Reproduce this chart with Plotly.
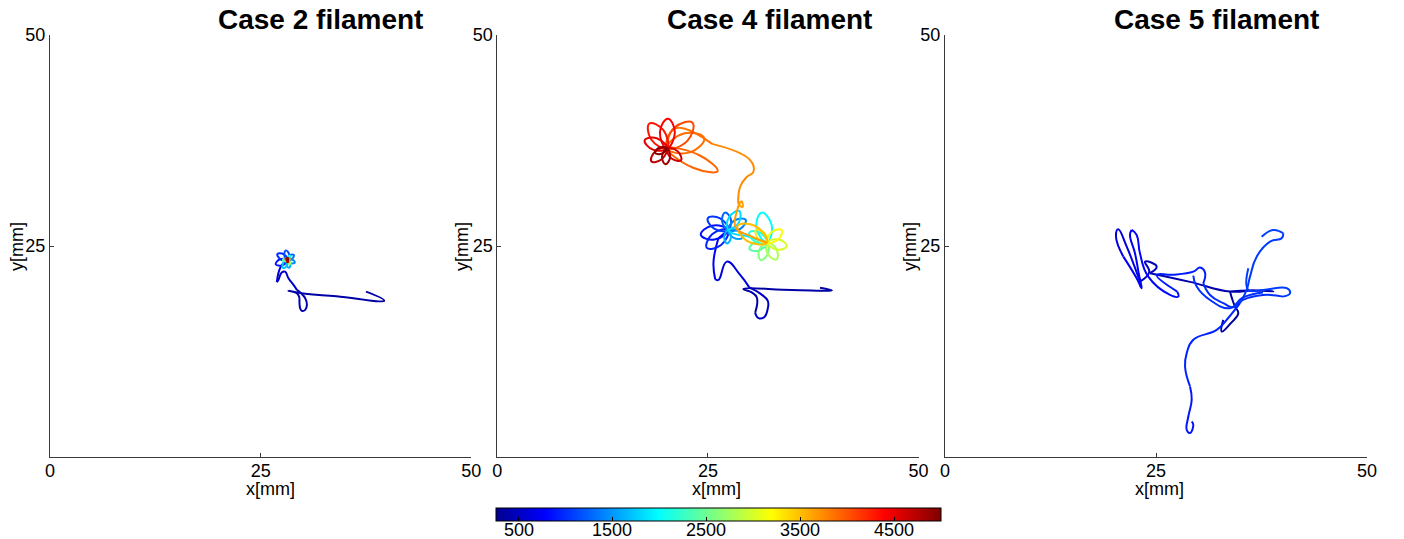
import plotly.graph_objects as go

# ---------------- data ----------------
CMIN, CMAX = 260, 5000
CBAR_TICKS = [500, 1500, 2500, 3500, 4500]
TITLES = ["Case 2 filament", "Case 4 filament", "Case 5 filament"]
X_TICKS = [0, 25, 50]
Y_TICKS = [25, 50]

# Each point: (x [mm], y [mm], time value)
CASE2_PATH = [
    (37.5, 19.6, 300), (39.67, 18.53, 315), (34.0, 19.05, 335), (30.3, 19.35, 355),
    (28.3, 19.7, 370), (29.3, 19.41, 385), (29.61, 18.82, 400), (29.69, 17.63, 420),
    (29.89, 17.31, 430), (30.29, 17.43, 440), (30.49, 18.02, 450), (30.29, 18.82, 465),
    (29.3, 19.8, 480), (28.9, 20.39, 495), (28.3, 21.18, 510), (27.9, 21.96, 525),
    (27.5, 21.85, 540), (27.1, 20.98, 555), (26.92, 20.71, 565), (27.1, 21.78, 580),
    (27.4, 22.56, 600), (27.7, 22.96, 620), (28.2, 23.35, 700),
]
CASE2_FLOWER = [
    (28.2, 23.35, 900), (27.30, 23.43, 900), (26.79, 22.84, 900), (27.56, 22.71, 900), (28.2, 23.35, 900),
    (28.2, 23.35, 1000), (27.72, 24.04, 1000), (26.99, 24.05, 1000), (27.36, 23.42, 1000), (28.2, 23.35, 1000),
    (28.2, 23.35, 1150), (28.38, 24.02, 1150), (28.0, 24.48, 1150), (27.80, 23.92, 1150), (28.2, 23.35, 1150),
    (28.2, 23.35, 1300), (28.75, 23.50, 1300), (28.93, 23.96, 1300), (28.44, 23.87, 1300), (28.2, 23.35, 1300),
    (28.2, 23.35, 1450), (28.58, 22.97, 1450), (29.05, 23.04, 1450), (28.74, 23.40, 1450), (28.2, 23.35, 1450),
    (28.2, 23.35, 1600), (28.05, 22.80, 1600), (28.37, 22.41, 1600), (28.53, 22.88, 1600), (28.2, 23.35, 1600),
    (28.2, 23.35, 1750), (27.66, 22.97, 1750), (27.65, 22.40, 1750), (28.14, 22.69, 1750), (28.2, 23.35, 1750),
    (28.2, 23.35, 2100), (28.47, 23.54, 2100), (28.48, 23.83, 2100), (28.23, 23.68, 2100), (28.2, 23.35, 2100),
    (28.2, 23.35, 2400), (27.90, 23.49, 2400), (27.65, 23.35, 2400), (27.90, 23.21, 2400), (28.2, 23.35, 2400),
    (28.2, 23.35, 2700), (28.23, 23.02, 2700), (28.48, 22.87, 2700), (28.47, 23.16, 2700), (28.2, 23.35, 2700),
    (28.2, 23.35, 3800), (28.38, 23.37, 3800), (28.46, 23.50, 3800), (28.30, 23.50, 3800), (28.2, 23.35, 3800),
    (28.2, 23.35, 4300), (28.10, 23.50, 4300), (27.94, 23.50, 4300), (28.02, 23.37, 4300), (28.2, 23.35, 4300),
    (28.2, 23.35, 4700), (28.12, 23.19, 4700), (28.2, 23.05, 4700), (28.28, 23.19, 4700), (28.2, 23.35, 4700),
    (28.2, 23.35, 4950), (28.26, 23.49, 4950), (28.2, 23.6, 4950), (28.14, 23.49, 4950), (28.2, 23.35, 4950),
]

CASE4_PATH = [
    (38.3, 20.05, 300), (39.7, 19.75, 310), (35.0, 19.8, 330), (29.2, 19.9, 360),
    (30.2, 19.5, 380), (30.8, 18.9, 400), (30.6, 17.1, 420), (31.0, 16.45, 440),
    (31.7, 16.6, 460), (32.1, 17.6, 480), (32.1, 18.5, 500), (31.3, 19.3, 520),
    (29.9, 20.1, 540), (28.8, 21.6, 560), (27.24, 23.15, 600), (26.25, 20.98, 640),
    (25.86, 21.06, 660), (25.65, 22.96, 700), (25.97, 24.92, 740), (26.25, 25.92, 780),
    (27.4, 26.9, 800),
]
CASE4_BLUE_FLOWER = [
    (27.4, 26.9, 850), (25.49, 27.41, 850), (24.15, 26.33, 850), (25.78, 25.76, 850), (27.4, 26.9, 850),
    (27.4, 26.9, 950), (25.49, 26.39, 950), (24.87, 24.78, 950), (26.56, 25.11, 950), (27.4, 26.9, 950),
    (27.4, 26.9, 1050), (26.44, 28.28, 1050), (24.98, 28.3, 1050), (25.73, 27.05, 1050), (27.4, 26.9, 1050),
    (27.4, 26.9, 1250), (27.73, 28.12, 1250), (27.03, 28.97, 1250), (26.68, 27.93, 1250), (27.4, 26.9, 1250),
    (27.4, 26.9, 1400), (28.83, 27.03, 1400), (29.48, 28.1, 1400), (28.23, 28.08, 1400), (27.4, 26.9, 1400),
    (27.4, 26.9, 1550), (28.05, 25.97, 1550), (29.05, 25.95, 1550), (28.54, 26.8, 1550), (27.4, 26.9, 1550),
    (27.4, 26.9, 1650), (26.92, 26.07, 1650), (27.26, 25.31, 1650), (27.73, 26.0, 1650), (27.4, 26.9, 1650),
    (27.4, 26.9, 1800), (28.68, 27.8, 1800), (28.7, 29.15, 1800), (27.54, 28.45, 1800), (27.4, 26.9, 1800),
    (29.5, 26.2, 1900), (32.0, 25.4, 1950),
]
CASE4_GREEN_FLOWER = [
    (32.0, 25.4, 2000), (32.56, 27.49, 2000), (31.37, 28.95, 2000), (30.76, 27.17, 2000), (32.0, 25.4, 2000),
    (32.0, 25.4, 2200), (31.17, 26.58, 2200), (29.92, 26.6, 2200), (30.57, 25.53, 2200), (32.0, 25.4, 2200),
    (32.0, 25.4, 2400), (30.69, 25.51, 2400), (29.93, 24.65, 2400), (31.07, 24.47, 2400), (32.0, 25.4, 2400),
    (32.0, 25.4, 2600), (31.07, 24.47, 2600), (31.25, 23.33, 2600), (32.11, 24.09, 2600), (32.0, 25.4, 2600),
    (32.0, 25.4, 2800), (32.12, 24.03, 2800), (33.15, 23.41, 2800), (33.13, 24.61, 2800), (32.0, 25.4, 2800),
    (32.0, 25.4, 3000), (33.18, 24.57, 3000), (34.36, 24.98, 3000), (33.39, 25.77, 3000), (32.0, 25.4, 3000),
    (32.0, 25.4, 3150), (33.33, 25.76, 3150), (33.76, 26.88, 3150), (32.58, 26.65, 3150), (32.0, 25.4, 3150),
    (32.0, 25.4, 3300), (31.69, 26.56, 3300), (30.71, 26.93, 3300), (30.91, 25.91, 3300), (32.0, 25.4, 3300),
    (32.0, 25.4, 3500), (30.62, 27.37, 3500), (28.54, 27.4, 3500), (29.61, 25.61, 3500), (32.0, 25.4, 3500),
]
CASE4_ORANGE_PATH = [
    (32.0, 25.4, 3600), (30.0, 26.2, 3620), (28.3, 27.2, 3640), (28.4, 29.0, 3660),
    (29.0, 30.3, 3670), (29.1, 29.6, 3680), (28.6, 30.0, 3690), (28.82, 32.02, 3700),
    (29.62, 33.2, 3720), (30.4, 33.8, 3740), (30.01, 35.18, 3760), (25.5, 37.1, 3800),
    (21.1, 38.93, 3840), (20.12, 36.57, 3860),
]
CASE4_RED_FLOWER = [
    (20.12, 36.57, 3880), (22.84, 36.09, 3880), (24.56, 37.76, 3880), (22.23, 38.35, 3880), (20.12, 36.57, 3880),
    (20.12, 36.57, 3920), (23.32, 34.24, 3920), (26.15, 33.88, 3920), (23.99, 35.75, 3920), (20.12, 36.57, 3920),
    (20.12, 36.57, 4050), (22.55, 37.45, 4050), (23.16, 39.61, 4050), (21.0, 39.0, 4050), (20.12, 36.57, 4050),
    (20.12, 36.57, 4300), (19.74, 38.7, 4300), (18.05, 39.52, 4300), (18.25, 37.65, 4300), (20.12, 36.57, 4300),
    (20.12, 36.57, 4400), (21.07, 38.44, 4400), (20.24, 40.07, 4400), (19.3, 38.5, 4400), (20.12, 36.57, 4400),
    (20.12, 36.57, 4500), (18.93, 37.76, 4500), (17.49, 37.53, 4500), (18.45, 36.42, 4500), (20.12, 36.57, 4500),
    (20.12, 36.57, 4600), (20.68, 35.37, 4600), (21.81, 35.16, 4600), (21.4, 36.23, 4600), (20.12, 36.57, 4600),
    (20.12, 36.57, 4700), (18.73, 36.2, 4700), (18.28, 35.03, 4700), (19.51, 35.27, 4700), (20.12, 36.57, 4700),
    (20.12, 36.57, 4850), (19.55, 35.58, 4850), (19.95, 34.68, 4850), (20.51, 35.5, 4850), (20.12, 36.57, 4850),
    (20.12, 36.57, 4950), (19.22, 36.65, 4950), (18.71, 36.06, 4950), (19.48, 35.93, 4950), (20.12, 36.57, 4950),
]

CASE5_MAIN = [
    (32.97, 16.25, 300), (32.78, 14.86, 310), (33.9, 15.9, 320), (34.75, 17.04, 330),
    (34.36, 17.82, 340), (34.0, 18.8, 350), (33.77, 19.6, 360), (36.14, 19.74, 370),
    (38.9, 19.63, 380), (36.5, 19.72, 390), (33.77, 19.6, 400), (29.03, 20.75, 420),
    (24.29, 21.78, 440), (25.08, 22.56, 450), (23.7, 23.15, 460), (24.2, 21.9, 470),
    (23.1, 20.78, 560), (21.53, 24.92, 600), (20.53, 26.98, 640), (20.26, 26.1, 660),
    (21.13, 23.74, 680), (22.71, 21.18, 700), (23.3, 20.0, 710), (23.0, 21.5, 720),
    (22.51, 24.14, 740), (21.92, 26.3, 750), (22.12, 26.9, 760), (22.71, 26.3, 770),
    (23.1, 24.14, 780), (24.09, 21.37, 800), (26.66, 19.2, 820), (27.64, 19.0, 830),
    (27.52, 19.6, 840), (25.08, 21.57, 860), (27.0, 21.6, 880), (29.42, 21.96, 900),
    (30.21, 22.44, 920), (30.81, 21.85, 935), (30.6, 20.6, 950), (31.4, 19.2, 960),
    (32.97, 18.22, 975), (34.16, 17.75, 990), (35.31, 18.62, 1010), (37.68, 19.2, 1030),
    (40.05, 19.0, 1050), (40.88, 19.41, 1060), (40.49, 20.0, 1070), (37.68, 19.8, 1080),
    (35.94, 19.8, 1090), (35.94, 22.37, 1100),
]
CASE5_TAIL_HOOK = [
    (29.23, 4.21, 860), (29.42, 3.82, 865), (29.03, 2.84, 870), (28.64, 3.23, 875),
    (28.83, 4.8, 885), (29.23, 6.78, 895), (29.03, 8.36, 905), (28.44, 10.72, 915),
    (28.64, 12.31, 925), (29.42, 13.88, 935), (32.19, 15.06, 950), (33.53, 16.44, 965),
    (34.95, 18.22, 990), (35.74, 19.8, 1010), (36.14, 21.37, 1030), (36.93, 23.74, 1050),
    (38.51, 25.51, 1070), (39.89, 25.92, 1080), (40.08, 26.51, 1085), (38.9, 26.9, 1090),
    (37.52, 26.1, 1095),
]
CASE5_EXTRA = [
    (29.42, 21.5, 980), (29.82, 20.19, 990), (31.4, 18.6, 1000), (33.77, 17.63, 1010),
    (35.31, 18.9, 1020), (37.68, 19.5, 1030),
]

PANELS = [
    [CASE2_PATH, CASE2_FLOWER],
    [CASE4_PATH, CASE4_BLUE_FLOWER, CASE4_GREEN_FLOWER, CASE4_ORANGE_PATH, CASE4_RED_FLOWER],
    [CASE5_MAIN, CASE5_TAIL_HOOK, CASE5_EXTRA],
]

# ---------------- style ----------------
JET = [(0.0, (0, 0, 143)), (0.111, (0, 0, 255)), (0.365, (0, 255, 255)),
       (0.619, (255, 255, 0)), (0.873, (255, 0, 0)), (1.0, (128, 0, 0))]
JET_SCALE = [[s, "rgb(%d,%d,%d)" % c] for s, c in JET]
FONT = "Liberation Sans, Arial, Helvetica, sans-serif"
AXC = "#3a3a3a"


def jet_color(t):
    v = min(max((t - CMIN) / (CMAX - CMIN), 0.0), 1.0)
    for (a, ca), (b, cb) in zip(JET, JET[1:]):
        if v <= b:
            f = (v - a) / (b - a) if b > a else 0
            return "rgb(%d,%d,%d)" % tuple(round(ca[i] + (cb[i] - ca[i]) * f) for i in range(3))
    return "rgb(128,0,0)"


def make_chunks(points):
    out, cur = [], []
    for p in points:
        if cur and abs(p[0] - cur[-1][0]) < 1e-9 and abs(p[1] - cur[-1][1]) < 1e-9:
            if len(cur) >= 2:
                out.append(cur)
            cur = [p]
            continue
        if cur and (abs(p[2] - cur[0][2]) > 120 or len(cur) >= 7):
            if len(cur) >= 2:
                out.append(cur)
            cur = [cur[-1], p]
            continue
        cur.append(p)
    if len(cur) >= 2:
        out.append(cur)
    return out


fig = go.Figure()

W, H = 1404, 539
ML, MR, MT, MB = 50, 37, 35, 82
PW = W - ML - MR
PH = H - MT - MB
DOMAINS = [(0.0, 421.3 / PW), (447.3 / PW, 868.6 / PW), (895.0 / PW, 1.0)]

for i, strokes in enumerate(PANELS):
    xa = "x" if i == 0 else "x%d" % (i + 1)
    ya = "y" if i == 0 else "y%d" % (i + 1)
    for stroke in strokes:
        for ch in make_chunks(stroke):
            ts = [q[2] for q in (ch[1:] if len(ch) > 2 else ch)]
            col = jet_color(sum(ts) / len(ts))
            fig.add_trace(go.Scatter(
                x=[q[0] for q in ch], y=[q[1] for q in ch], mode="lines",
                line=dict(color=col, width=2, shape="spline", smoothing=1.3),
                hoverinfo="skip", showlegend=False, xaxis=xa, yaxis=ya))

# colorbar carrier
CB_LEFT, CB_LEN, CB_TOP = 496.0, 445.0, 508.5
fig.add_trace(go.Scatter(
    x=[None], y=[None], mode="markers", showlegend=False, hoverinfo="skip",
    marker=dict(color=[CMIN, CMAX], cmin=CMIN, cmax=CMAX, colorscale=JET_SCALE,
                showscale=True,
                colorbar=dict(orientation="h", x=(CB_LEFT + CB_LEN / 2 - ML) / PW,
                              xanchor="center",
                              y=-(CB_TOP - (MT + PH)) / PH, yanchor="top",
                              len=CB_LEN, lenmode="pixels", thickness=13,
                              xpad=0, ypad=0, outlinewidth=1, outlinecolor="#000",
                              tickvals=CBAR_TICKS, ticks="inside", ticklen=4,
                              tickcolor="#000", showticklabels=False)),
    xaxis="x", yaxis="y"))

layout = dict(
    width=W, height=H, margin=dict(l=ML, r=MR, t=MT, b=MB, autoexpand=False),
    paper_bgcolor="white", plot_bgcolor="white",
    font=dict(family=FONT, size=18, color="#000"),
)
for i in range(3):
    xk = "xaxis" if i == 0 else "xaxis%d" % (i + 1)
    yk = "yaxis" if i == 0 else "yaxis%d" % (i + 1)
    layout[xk] = dict(domain=list(DOMAINS[i]), range=[0, 50], tickvals=X_TICKS,
                      ticks="inside", ticklen=4, tickcolor=AXC, showline=True,
                      linecolor=AXC, linewidth=1, showgrid=False, zeroline=False,
                      automargin=False, ticklabelstandoff=-3,
                      anchor="y" if i == 0 else "y%d" % (i + 1),
                      tickfont=dict(family=FONT, size=18, color="#000"))
    layout[yk] = dict(domain=[0, 1], range=[0, 50], tickvals=Y_TICKS,
                      ticks="inside", ticklen=4, tickcolor=AXC, showline=True,
                      linecolor=AXC, linewidth=1, showgrid=False, zeroline=False,
                      automargin=False,
                      anchor="x" if i == 0 else "x%d" % (i + 1),
                      tickfont=dict(family=FONT, size=18, color="#000"))
fig.update_layout(**layout)

TITLE_PX = [320.5, 769.0, 1216.5]
XLAB_PX = [270.5, 716.5, 1159.5]
YLAB_PX = [17.0, 462.0, 910.0]
ann = []
for i in range(3):
    ann.append(dict(text="<b>%s</b>" % TITLES[i], xref="paper", yref="paper",
                    x=(TITLE_PX[i] - ML) / PW, y=(MT + PH - 20) / PH,
                    xanchor="center", yanchor="middle", showarrow=False,
                    font=dict(family=FONT, size=28, color="#000")))
    ann.append(dict(text="x[mm]", xref="paper", yref="paper",
                    x=(XLAB_PX[i] - ML) / PW, y=(MT + PH - 489) / PH,
                    xanchor="center", yanchor="middle", showarrow=False,
                    font=dict(family=FONT, size=18, color="#000")))
    ann.append(dict(text="y[mm]", xref="paper", yref="paper", textangle=-90,
                    x=(YLAB_PX[i] - ML) / PW, y=(MT + PH - 247) / PH,
                    xanchor="center", yanchor="middle", showarrow=False,
                    font=dict(family=FONT, size=18, color="#000")))
# colorbar tick labels placed on the colorbar's own scale
for tv in CBAR_TICKS:
    px = CB_LEFT + (tv - CMIN) / (CMAX - CMIN) * CB_LEN
    ann.append(dict(text=str(tv), xref="paper", yref="paper",
                    x=(px - ML) / PW, y=(MT + PH - 530) / PH,
                    xanchor="center", yanchor="middle", showarrow=False,
                    font=dict(family=FONT, size=18, color="#000")))
fig.update_layout(annotations=ann)

fig.write_html("out.html")
